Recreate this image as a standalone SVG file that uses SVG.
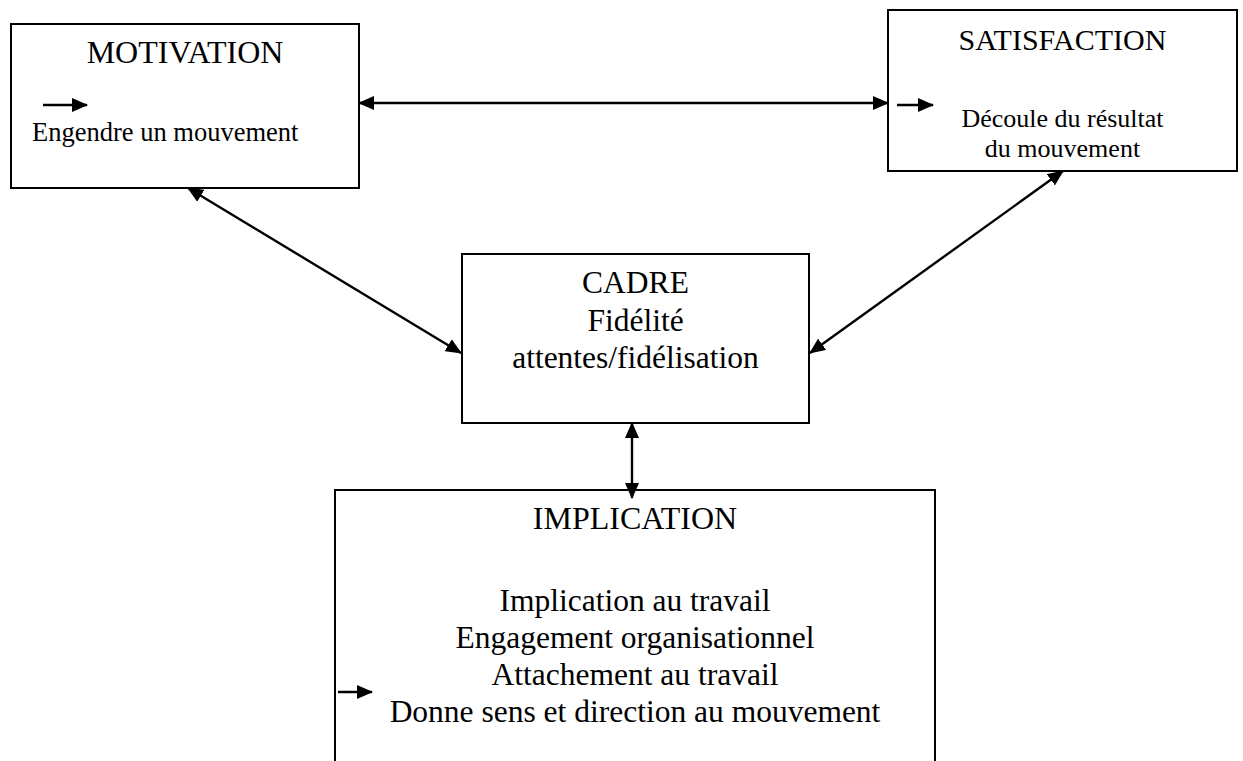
<svg xmlns="http://www.w3.org/2000/svg" width="1243" height="761" viewBox="0 0 1243 761">
  <defs>
    <marker id="ah" viewBox="0 0 16 14" refX="15" refY="7" markerWidth="16" markerHeight="14" markerUnits="userSpaceOnUse" orient="auto-start-reverse">
      <path d="M0,0 L16,7 L0,14 z" fill="#000"/>
    </marker>
    <style>
      .box { fill: #fff; stroke: #000; stroke-width: 2; }
      .t { font-family: "Liberation Serif", "Times New Roman", serif; fill: #000; }
      .c { text-anchor: middle; }
      .conn { stroke: #000; stroke-width: 2.4; fill: none; }
      .small { stroke: #000; stroke-width: 2.4; fill: none; marker-end: url(#ah); }
      .both { marker-start: url(#ah); marker-end: url(#ah); }
    </style>
  </defs>
  <rect width="1243" height="761" fill="#fff"/>

  <g id="motivation">
    <rect class="box" x="11" y="24" width="348" height="164"/>
    <text class="t c" x="185" y="63" font-size="32">MOTIVATION</text>
    <line class="small" x1="43" y1="105" x2="87" y2="105"/>
    <text class="t" x="32" y="141" font-size="26.5">Engendre un mouvement</text>
  </g>

  <g id="satisfaction">
    <rect class="box" x="888" y="10" width="349" height="161"/>
    <text class="t c" x="1062.5" y="50" font-size="30">SATISFACTION</text>
    <line class="small" x1="897" y1="105" x2="933" y2="105"/>
    <text class="t c" x="1062.5" y="127" font-size="26">Découle du résultat</text>
    <text class="t c" x="1062.5" y="157" font-size="26">du mouvement</text>
  </g>

  <g id="cadre">
    <rect class="box" x="462" y="254" width="347" height="169"/>
    <text class="t c" x="635.5" y="293" font-size="31.5">CADRE</text>
    <text class="t c" x="635.5" y="331" font-size="31.5">Fidélité</text>
    <text class="t c" x="635.5" y="368" font-size="31.5">attentes/fidélisation</text>
  </g>

  <g id="implication">
    <rect class="box" x="335" y="490" width="600" height="320"/>
    <text class="t c" x="635" y="529" font-size="32">IMPLICATION</text>
    <text class="t c" x="635" y="611" font-size="31.5">Implication au travail</text>
    <text class="t c" x="635" y="648" font-size="31.5">Engagement organisationnel</text>
    <text class="t c" x="635" y="685" font-size="31.5">Attachement au travail</text>
    <line class="small" x1="338" y1="692" x2="372" y2="692"/>
    <text class="t c" x="635" y="722" font-size="31.5">Donne sens et direction au mouvement</text>
  </g>

  <g id="connectors">
    <line class="conn both" x1="359" y1="103" x2="888" y2="103"/>
    <line class="conn both" x1="188" y1="188" x2="461" y2="353"/>
    <line class="conn both" x1="1063" y1="171" x2="810" y2="353"/>
    <line class="conn both" x1="632" y1="423" x2="632" y2="498"/>
  </g>
</svg>
